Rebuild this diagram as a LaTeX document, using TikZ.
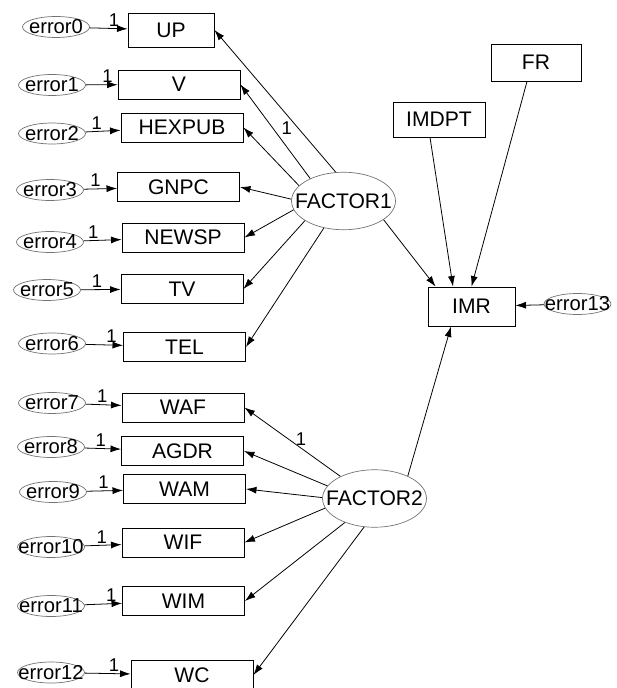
\documentclass[tikz,border=0pt]{standalone}
\usepackage{fontspec}
\setmainfont{Liberation Sans}
\usetikzlibrary{positioning,calc,arrows.meta,shapes.geometric}

\begin{document}
\begin{tikzpicture}[x=0.02cm, y=-0.02cm,
  font=\fontsize{12}{14}\selectfont,
  >={Latex[length=6pt,width=4pt]},
  var/.style={draw, rectangle, line width=0.5pt, minimum width=2.44cm, minimum height=0.58cm, inner sep=0pt},
  err/.style={ellipse, draw=black!55, thin, minimum width=1.34cm, minimum height=0.42cm,
    inner sep=0pt, label={[font=\fontsize{11.5}{13}\selectfont]center:#1}},
  fac/.style={ellipse, draw=black!55, thin, minimum width=2.08cm, minimum height=1.15cm,
    inner sep=0pt, label={center:#1}},
  one/.style={above, pos=#1, inner sep=1pt, font=\fontsize{10.5}{12}\selectfont},
  link/.style={draw, line width=0.45pt, ->}]
    \useasboundingbox (0,0) rectangle (617,688);
    %
    \node[var, minimum width=1.72cm, minimum height=0.68cm] (up) at (171,30) {UP};
    \node[var] (v) at (179,84.5) {V};
    \node[var] (hexpub) at (182,127.5) {HEXPUB};
    \node[var] (gnpc) at (178.5,187) {GNPC};
    \node[var] (newsp) at (183,237.5) {NEWSP};
    \node[var] (tv) at (182,289) {TV};
    \node[var] (tel) at (184.5,347) {TEL};
    \node[var] (waf) at (183,407.5) {WAF};
    \node[var] (agdr) at (182.5,451) {AGDR};
    \node[var] (wam) at (184.5,489) {WAM};
    \node[var] (wif) at (183,542.5) {WIF};
    \node[var] (wim) at (183.5,601) {WIM};
    \node[var, minimum height=0.6cm] (wc) at (192,675) {WC};
    \node[var, minimum width=1.8cm, minimum height=0.74cm] (fr) at (536,62.5) {FR};
    \node[var, minimum width=1.84cm, minimum height=0.7cm] (imdpt) at (439,119.5) {IMDPT};
    \node[var, minimum width=1.74cm, minimum height=0.78cm] (imr) at (471.5,306.5) {IMR};
    %
    \node[err=error0] (e0) at (56,27) {};
    \node[err=error1] (e1) at (52,85) {};
    \node[err=error2] (e2) at (52,133.5) {};
    \node[err=error3] (e3) at (50,190) {};
    \node[err=error4] (e4) at (50,242) {};
    \node[err=error5] (e5) at (47,290) {};
    \node[err=error6] (e6) at (52,343.5) {};
    \node[err=error7] (e7) at (52,403) {};
    \node[err=error8] (e8) at (51,447) {};
    \node[err=error9] (e9) at (53,492) {};
    \node[err=error10] (e10) at (51,547) {};
    \node[err=error11] (e11) at (51,606) {};
    \node[err=error12] (e12) at (51,672.5) {};
    \node[err=error13] (e13) at (577.5,304) {};
    %
    \node[fac=FACTOR1] (f1) at (343.5,201) {};
    \node[fac=FACTOR2] (f2) at (374.5,498.5) {};
    %
    \draw[link] (e0) -- node[one=0.64]{1} (up);
    \draw[link] (e1) -- node[one=0.68]{1} (v);
    \draw[link] (e2) -- node[one=0.32]{1} (hexpub);
    \draw[link] (e3) -- node[one=0.35]{1} (gnpc);
    \draw[link] (e4) -- node[one=0.25]{1} (newsp);
    \draw[link] (e5) -- node[one=0.41]{1} (tv);
    \draw[link] (e6) -- node[one=0.69]{1} (tel);
    \draw[link] (e7) -- node[one=0.46]{1} (waf);
    \draw[link] (e8) -- node[one=0.44]{1} (agdr);
    \draw[link] (e9) -- node[one=0.46]{1} (wam);
    \draw[link] (e10) -- node[one=0.46]{1} (wif);
    \draw[link] (e11) -- node[one=0.71]{1} (wim);
    \draw[link] (e12) -- node[one=0.64]{1} (wc);
    %
    \draw[link] (f1.105) -- (up.east);
    \draw[link] (f1.146) -- node[pos=0.54, right=4pt, inner sep=1pt, font=\fontsize{10.5}{12}\selectfont]{1} (v.east);
    \draw[link] (f1.161) -- (hexpub.east);
    \draw[link] (f1.178) -- (gnpc.east);
    \draw[link] (f1.190) -- (newsp.east);
    \draw[link] (f1.207) -- (tv.east);
    \draw[link] (f1.234) -- (tel.east);
    %
    \draw[link] (f2.147) -- node[one=0.41]{1} (waf.east);
    \draw[link] (f2.165) -- (agdr.east);
    \draw[link] (f2.179) -- (wam.east);
    \draw[link] (f2.191) -- (wif.east);
    \draw[link] (f2.219) -- (wim.east);
    \draw[link] (f2.250) -- (wc.east);
    %
    \draw[link] (f1.335) -- ([xshift=0.16cm]imr.north west);
    \draw[link] ([xshift=-0.18cm]imdpt.south) -- ([xshift=-0.37cm]imr.north);
    \draw[link] ([xshift=-0.18cm]fr.south) -- (imr.north);
    \draw[link] (e13) -- (imr);
    \draw[link] (f2.34) -- ([xshift=-0.41cm]imr.south);
\end{tikzpicture}
\end{document}
